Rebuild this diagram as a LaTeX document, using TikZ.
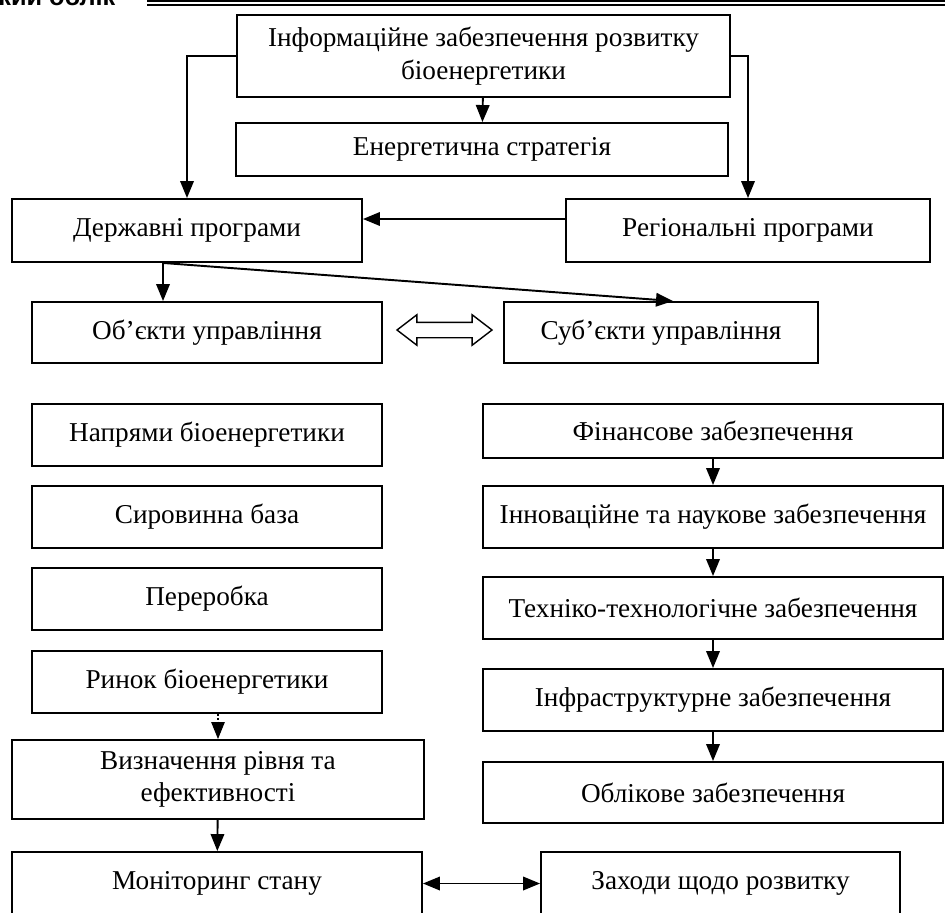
\documentclass[tikz,border=0pt]{standalone}
\usepackage{fontspec}
\usepackage{tikz}
\usetikzlibrary{arrows.meta, shapes.arrows}
\newfontfamily\boxfont{Liberation Serif}
\newfontfamily\headfont{Liberation Sans}

\tikzset{
  >={Triangle[length=0.34cm, width=0.27cm]},
  box/.style={draw, line width=1.1pt, inner sep=0pt, align=center,
    font=\boxfont\fontsize{15.5}{18.5}\selectfont},
  arr/.style={->, line width=1.1pt},
}

\begin{document}
\begin{tikzpicture}[x=0.02cm, y=-0.02cm]
        \useasboundingbox (0,0) rectangle (945,912);
        % Header line of the page
        \node[anchor=base west, inner sep=0pt, font=\headfont\bfseries\fontsize{14.4}{16}\selectfont] (head) at (-2,6) {кий облік};
        \draw[line width=0.04cm] (147,1.5) -- (945,1.5);
        \draw[line width=0.04cm] (147,5.5) -- (945,5.5);

        % Top boxes
        \node[box, minimum width=9.86cm, minimum height=1.64cm] (info) at (483.5,56) {Інформаційне забезпечення розвитку\\біоенергетики};
        \node[box, minimum width=9.84cm, minimum height=1.06cm] (strat) at (482,149.5) {Енергетична стратегія};
        \node[box, minimum width=7cm, minimum height=1.26cm] (derzh) at (187,230.5) {Державні програми};
        \node[box, minimum width=7.28cm, minimum height=1.26cm] (region) at (748,230.5) {Регіональні програми};
        \node[box, minimum width=7cm, minimum height=1.22cm] (obj) at (207,332.5) {Об’єкти управління};
        \node[box, minimum width=6.28cm, minimum height=1.22cm] (subj) at (661,332.5) {Суб’єкти управління};
        \node[double arrow, draw, line width=0.8pt, inner sep=0pt, inner ysep=0.14cm,
          double arrow head extend=0.15cm, double arrow tip angle=75,
          minimum height=1.9cm] (dbl) at (444.5,330) {};

        % Left column
        \foreach \y/\name/\txt in {435/napr/Напрями біоенергетики, 517/syr/Сировинна база,
            599/pere/Переробка, 682/rynok/Ринок біоенергетики}
          \node[box, minimum width=7cm, minimum height=1.24cm] (\name) at (207,\y) {\txt};
        \node[box, minimum width=8.24cm, minimum height=1.58cm] (vyzn) at (218,779.5) {Визначення рівня та\\ефективності};
        \node[box, minimum width=8.2cm, minimum height=1.26cm] (monit) at (217,883.5) {Моніторинг стану};
        \node[box, minimum width=7.18cm, minimum height=1.26cm] (zach) at (720.5,883.5) {Заходи щодо розвитку};

        % Right column
        \foreach \y/\h/\name/\txt in {431/1.08/fin/Фінансове забезпечення,
            517/1.24/inn/Інноваційне та наукове забезпечення,
            608/1.24/tech/Техніко-технологічне забезпечення,
            700/1.24/infra/Інфраструктурне забезпечення,
            792.5/1.22/oblik/Облікове забезпечення}
          \node[box, minimum width=9.2cm, minimum height=\h cm] (\name) at (713,\y) {\txt};

        % Connectors
        \draw[arr] (info.west) -| (derzh.north);
        \draw[arr] (info.east) -| (region.north);
        \draw[arr] (info) -- (strat);
        \draw[arr] ([yshift=0.23cm]region.west) -- ([yshift=0.23cm]derzh.east);
        \coordinate (split) at ([xshift=-0.48cm]derzh.south);
        \draw[arr] (split) -- (split |- obj.north);
        \draw[arr] (split) -- ([xshift=0.24cm]subj.north);
        \draw[arr, line width=0.6pt, dash pattern=on 1pt off 1.2pt] (vyzn.north |- rynok.south) -- (vyzn.north);
        \draw[arr] (vyzn) -- (monit);
        \draw[<->, line width=1.1pt] (monit) -- (zach);
        \foreach \a/\b in {fin/inn, inn/tech, tech/infra, infra/oblik}
          \draw[arr] (\a) -- (\b);
\end{tikzpicture}
\end{document}
